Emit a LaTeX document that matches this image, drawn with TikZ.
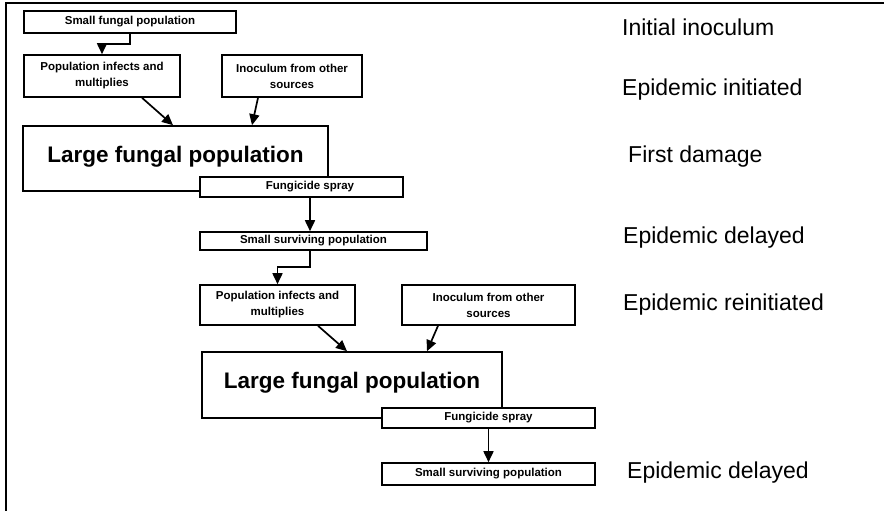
\documentclass[tikz,border=0pt]{standalone}
\usepackage{fontspec}
\setmainfont{Liberation Sans}
\usetikzlibrary{arrows.meta}
\tikzset{
  box/.style={draw=black, line width=1.6pt, fill=white, inner sep=0pt, font=\bfseries\fontsize{11.5}{16}\selectfont, align=center},
  bigbox/.style={draw=black, line width=1.6pt, fill=white, inner sep=0pt},
  bigtext/.style={font=\bfseries\fontsize{22.5}{26}\selectfont, inner sep=0pt},
  lab/.style={anchor=west, inner sep=0pt, font=\fontsize{23}{26}\selectfont},
  arr/.style={line width=1.7pt, -{Triangle[length=11pt,width=10pt]}},
  frame/.style={line width=1.2pt}
}
\begin{document}
\begin{tikzpicture}[x=1pt,y=-1pt]
\useasboundingbox (0,0) rectangle (884,511);
% frame
\coordinate (fr1) at (884,3);
\coordinate (fr2) at (6,3);
\coordinate (fr3) at (6,511);
\draw[frame] (fr1) -- (fr2) -- (fr3);

% first cycle
\node[box, minimum width=212pt, minimum height=22pt] (b1) at (130,22) {Small fungal population};
\node[box, minimum width=156pt, minimum height=42pt] (pop1) at (102,76) {Population infects and\\multiplies};
\node[box, minimum width=140pt, minimum height=42pt] (inoc1) at (292,76) {Inoculum from other\\sources};
\node[bigbox, minimum width=305pt, minimum height=65pt] (large1) at (175.5,158.5) {};
\node[bigtext] (t1) at (175.5,157) {Large fungal population};
\node[box, minimum width=203pt, minimum height=20pt] (f1) at (301.5,187) {\hspace*{17pt}Fungicide spray};
\node[box, minimum width=227pt, minimum height=18pt] (ss1) at (313.5,241) {Small surviving population};

\draw[arr] (b1.south) -- ++(0,10) -| (pop1.north);
\draw[arr] ([xshift=40pt]pop1.south) -- ([xshift=-2.5pt]large1.north);
\draw[arr] ([xshift=-34pt]inoc1.south) -- ([xshift=76.5pt]large1.north);
\draw[arr] ([xshift=8.5pt]f1.south) -- ([xshift=-3.5pt]ss1.north);

% second cycle
\node[box, minimum width=155pt, minimum height=40pt] (pop2) at (277.5,305) {Population infects and\\multiplies};
\node[box, minimum width=173pt, minimum height=40pt] (inoc2) at (488.5,305) {Inoculum from other\\sources};
\node[bigbox, minimum width=300pt, minimum height=66pt] (large2) at (352,385) {};
\node[bigtext] (t2) at (352,383) {Large fungal population};
\node[box, minimum width=213pt, minimum height=20pt] (f2) at (488.5,418) {Fungicide spray};
\node[box, minimum width=213pt, minimum height=22pt] (ss2) at (488.5,474) {Small surviving population};

\draw[arr] ([xshift=-3.5pt]ss1.south) -- ++(0,16) -| (pop2.north);
\draw[arr] ([xshift=40.5pt]pop2.south) -- ([xshift=-5pt]large2.north);
\draw[arr] ([xshift=-50.5pt]inoc2.south) -- ([xshift=75pt]large2.north);
\draw[arr] (f2.south) -- (ss2.north);

% right labels
\node[lab] (l1) at (622,27) {Initial inoculum};
\node[lab] (l2) at (622,90) {Epidemic initiated};
\node[lab] (l3) at (628,157) {First damage};
\node[lab] (l4) at (623,238) {Epidemic delayed};
\node[lab] (l5) at (623,305) {Epidemic reinitiated};
\node[lab] (l6) at (627,473) {Epidemic delayed};
\end{tikzpicture}
\end{document}
